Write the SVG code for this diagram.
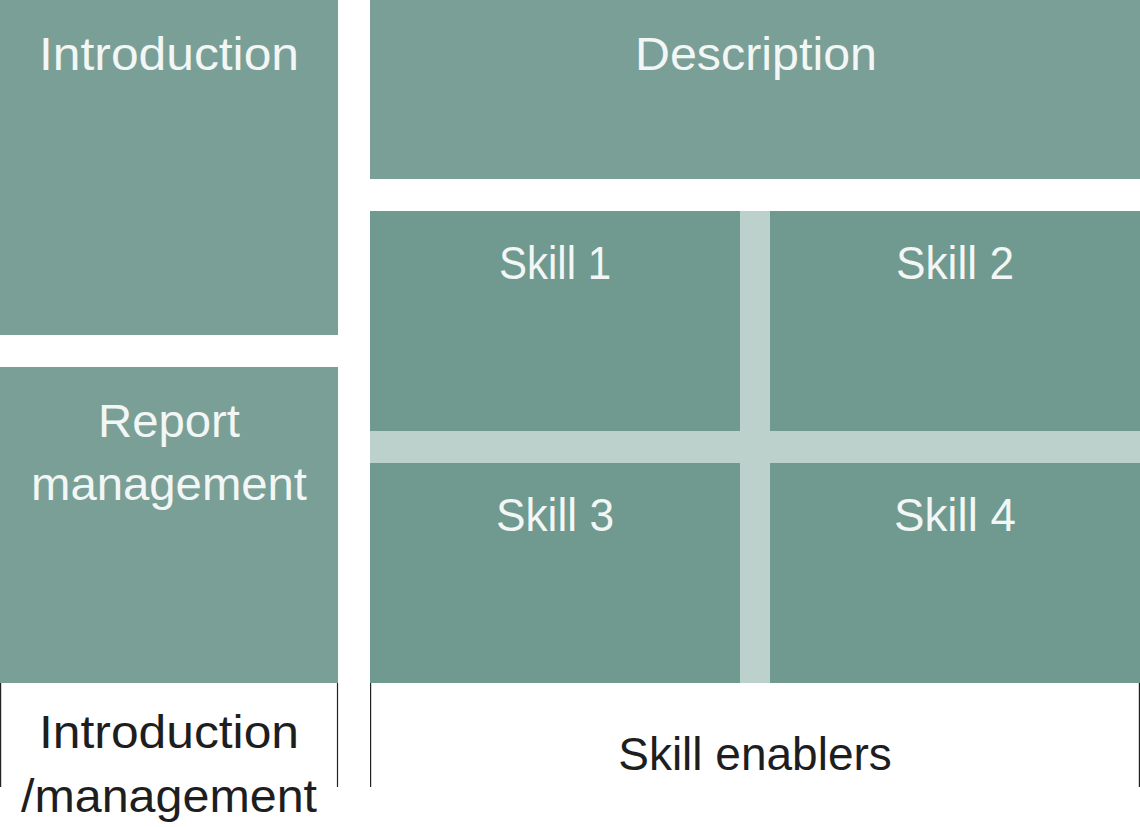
<svg xmlns="http://www.w3.org/2000/svg" width="1140" height="827" viewBox="0 0 1140 827">
<style>
.pan{fill:#7a9f97}
.sk{fill:#70998f}
.lt{fill:#bcd0cc}
.wt{font-family:"Liberation Sans",Arial,sans-serif;font-size:46px;fill:#f2f6f5;text-anchor:middle}
.dk{font-family:"Liberation Sans",Arial,sans-serif;font-size:46px;fill:#1e1e1e;text-anchor:middle}
.ln{stroke:#222;stroke-width:1.2;fill:none}
</style>
<rect width="1140" height="827" fill="#fff"/>
<g id="introduction"><rect class="pan" x="0" y="0" width="338" height="335"/><text class="wt" x="169" y="70" textLength="260" lengthAdjust="spacingAndGlyphs">Introduction</text></g>
<g id="report-management"><rect class="pan" x="0" y="367" width="338" height="316"/><text class="wt" x="169" y="437" textLength="142" lengthAdjust="spacingAndGlyphs">Report</text><text class="wt" x="169" y="500" textLength="276" lengthAdjust="spacingAndGlyphs">management</text></g>
<g id="description"><rect class="pan" x="370" y="0" width="770" height="179"/><text class="wt" x="756" y="70" textLength="242" lengthAdjust="spacingAndGlyphs">Description</text></g>
<g id="skill-grid"><rect class="lt" x="370" y="211" width="770" height="472"/></g>
<g id="skill1"><rect class="sk" x="370" y="211" width="370" height="220"/><text class="wt" x="555" y="279" textLength="112" lengthAdjust="spacingAndGlyphs">Skill 1</text></g>
<g id="skill2"><rect class="sk" x="770" y="211" width="370" height="220"/><text class="wt" x="955" y="279" textLength="118" lengthAdjust="spacingAndGlyphs">Skill 2</text></g>
<g id="skill3"><rect class="sk" x="370" y="463" width="370" height="220"/><text class="wt" x="555" y="531" textLength="118" lengthAdjust="spacingAndGlyphs">Skill 3</text></g>
<g id="skill4"><rect class="sk" x="770" y="463" width="370" height="220"/><text class="wt" x="955" y="531" textLength="122" lengthAdjust="spacingAndGlyphs">Skill 4</text></g>
<g id="connectors">
<line class="ln" x1="0.6" y1="683" x2="0.6" y2="787"/>
<line class="ln" x1="337.5" y1="683" x2="337.5" y2="787"/>
<line class="ln" x1="370.6" y1="683" x2="370.6" y2="787"/>
<line class="ln" x1="1139.4" y1="683" x2="1139.4" y2="787"/>
</g>
<g id="intro-management-label"><text class="dk" x="169" y="748" textLength="260" lengthAdjust="spacingAndGlyphs">Introduction</text><text class="dk" x="169" y="812" textLength="296" lengthAdjust="spacingAndGlyphs">/management</text></g>
<g id="skill-enablers-label"><text class="dk" x="755" y="770">Skill enablers</text></g>
</svg>
